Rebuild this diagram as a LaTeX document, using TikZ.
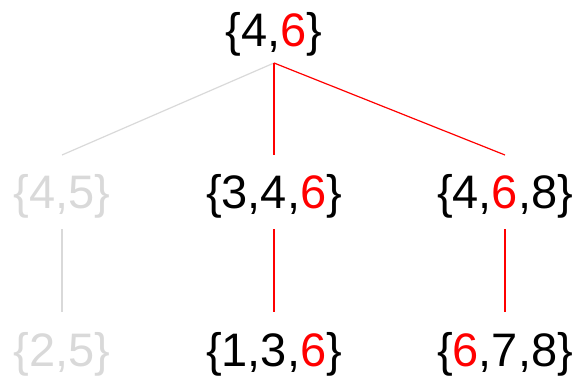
\documentclass[tikz,border=0pt]{standalone}
\usepackage{fontspec}
\setmainfont{Liberation Sans}
\usepackage{xcolor}
\usepackage{tikz}
\usetikzlibrary{positioning, calc}
\definecolor{PathRed}{RGB}{255,0,0}
\definecolor{PrunedGray}{RGB}{217,217,217}
\newcommand{\hl}[1]{\textcolor{PathRed}{#1}}
\tikzset{
  setnode/.style={anchor=base, inner sep=0pt, font=\fontsize{47}{50}\selectfont, text=black},
  prunednode/.style={setnode, text=PrunedGray},
  keptedge/.style={draw=PathRed, line width=1.2pt},
  prunededge/.style={draw=PrunedGray, line width=1.2pt},
}

\begin{document}
\begin{tikzpicture}[x=1pt, y=-1pt]
  \useasboundingbox (0,0) rectangle (573,377);
  % sets
  \node[setnode] (root) at (274,47) {\{4,\hl{6}\}};
  \node[prunednode] (s45) at (62,208) {\{4,5\}};
  \node[setnode] (s346) at (274,208) {\{3,4,\hl{6}\}};
  \node[setnode] (s468) at (505,208) {\{4,\hl{6},8\}};
  \node[prunednode] (s25) at (62,366) {\{2,5\}};
  \node[setnode] (s136) at (274,366) {\{1,3,\hl{6}\}};
  \node[setnode] (s678) at (505,366) {\{\hl{6},7,8\}};
  % end points above and below the sets
  \coordinate (root-out) at ($(root.base)+(0,16)$);
  \coordinate (s45-in) at ($(s45.base)+(0,-53)$);
  \coordinate (s346-in) at ($(s346.base)+(0,-53)$);
  \coordinate (s468-in) at ($(s468.base)+(0,-53)$);
  \coordinate (s45-out) at ($(s45.base)+(0,21)$);
  \coordinate (s346-out) at ($(s346.base)+(0,21)$);
  \coordinate (s468-out) at ($(s468.base)+(0,21)$);
  \coordinate (s25-in) at ($(s25.base)+(0,-54)$);
  \coordinate (s136-in) at ($(s136.base)+(0,-54)$);
  \coordinate (s678-in) at ($(s678.base)+(0,-54)$);
  % edges
  \draw[prunededge] (root-out) -- (s45-in);
  \draw[keptedge] (root-out) -- (s346-in);
  \draw[keptedge] (root-out) -- (s468-in);
  \draw[prunededge] (s45-out) -- (s25-in);
  \draw[keptedge] (s346-out) -- (s136-in);
  \draw[keptedge] (s468-out) -- (s678-in);
\end{tikzpicture}
\end{document}
